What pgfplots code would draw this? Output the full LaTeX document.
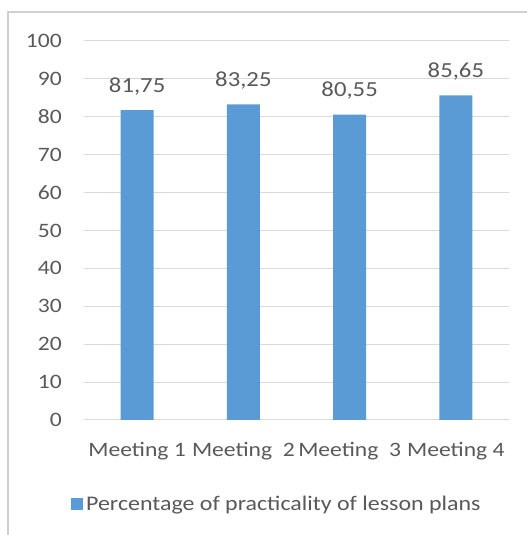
\documentclass[border=0pt]{standalone}
\usepackage{pgfplots}
\pgfplotsset{compat=1.18}
\usepackage{fontspec}
\setmainfont[FakeStretch=1.15]{Carlito}
\definecolor{barblue}{HTML}{5B9BD5}
\definecolor{gridgray}{HTML}{D9D9D9}
\definecolor{txtgray}{HTML}{595959}
\definecolor{bordergray}{HTML}{D0D0D0}
\begin{document}
\begin{tikzpicture}
\path[use as bounding box] (0pt,0pt) rectangle (527pt,535pt);
\draw[bordergray, line width=1.5pt] (8pt,0pt) -- (8pt,523pt) -- (527pt,523pt);
\begin{axis}[
  at={(84pt,115pt)}, anchor=south west,
  scale only axis, width=425pt, height=379pt,
  ybar, bar width=33pt,
  xmin=-0.5, xmax=3.5, ymin=0, ymax=100,
  xtick=data,
  xticklabels={Meeting 1,Meeting\ \ 2,Meeting\ \ 3,Meeting 4},
  ytick={0,10,...,100},
  axis line style={draw=none},
  major tick length=0pt,
  ymajorgrids, grid style={gridgray, line width=1pt},
  /pgf/number format/assume math mode=true,
  ticklabel style={font=\fontsize{20.5pt}{24pt}\selectfont, text=txtgray},
  yticklabel style={inner sep=0pt, anchor=east, xshift=-22pt},
  xticklabel style={inner sep=0pt, anchor=north, yshift=-22pt},
  nodes near coords,
  every node near coord/.append style={font=\fontsize{21.5pt}{24pt}\selectfont, text=txtgray, anchor=base, inner sep=0pt, yshift=18pt,
    /pgf/number format/.cd, fixed, fixed zerofill, precision=2, use comma, assume math mode=true},
  legend style={at={(0.455,-0.222)}, anchor=center, draw=none, font=\fontsize{20.8pt}{24pt}\selectfont, text=txtgray,
    /tikz/every odd column/.append style={column sep=0pt},
    nodes={inner xsep=3pt}},
  legend image code/.code={\fill[barblue] (0pt,-6pt) rectangle (12pt,6pt);},
]
\addplot[fill=barblue, draw=none] coordinates {(0,81.75) (1,83.25) (2,80.55) (3,85.65)};
\addlegendentry{Percentage of practicality of lesson plans}
\end{axis}
\end{tikzpicture}
\end{document}
